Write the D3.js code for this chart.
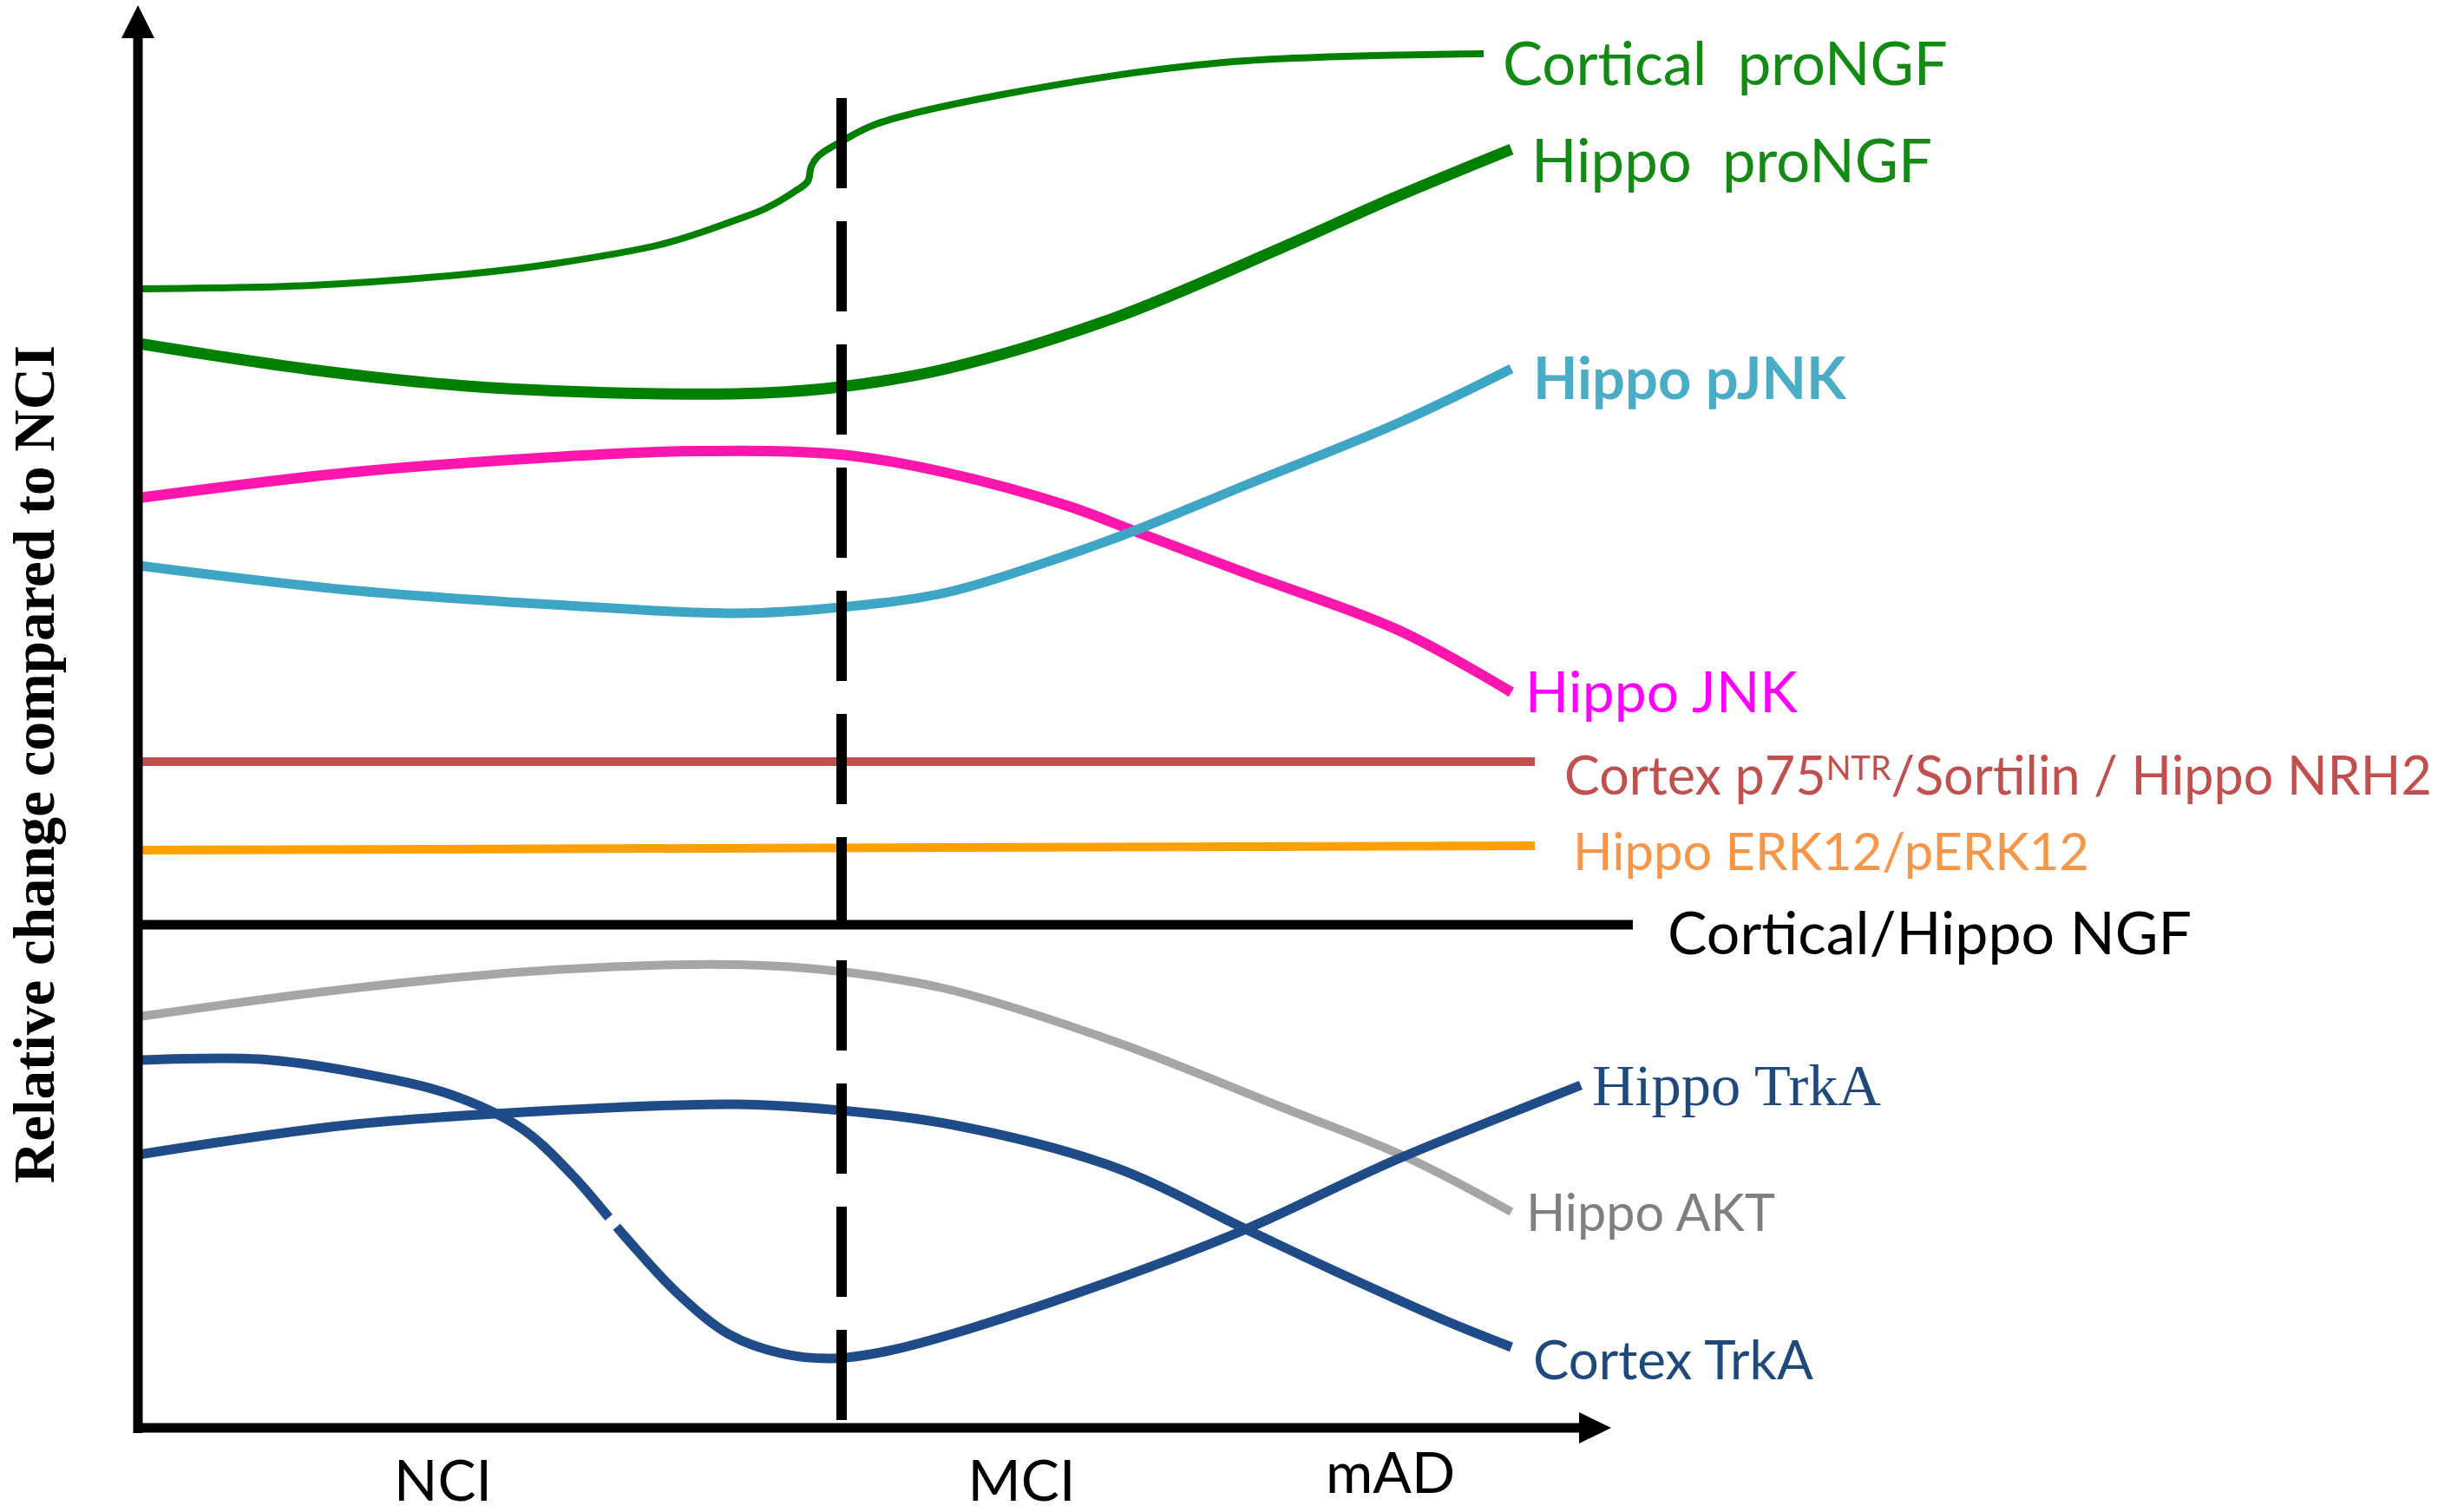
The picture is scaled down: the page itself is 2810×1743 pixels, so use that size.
<!DOCTYPE html>
<html>
<head>
<meta charset="utf-8">
<script src="https://cdn.jsdelivr.net/npm/d3@7"></script>
<style>
  body { margin: 0; background: #fff; }
  svg { display: block; }
</style>
</head>
<body>
<div id="chart"></div>
<script>
// stages on the time axis (x in arbitrary units, 0 = y axis)
const stages = ["NCI", "MCI", "mAD"];
const stageX = [35, 101.7, 144.2];
const mciBoundary = 81;

// relative change compared to NCI (0 = unchanged NGF line)
const corticalProNGF = [[0, 73.3], [19.8, 73.7], [37.8, 75.0], [47.8, 76.2], [60.5, 78.5], [69, 81.3],
  [72.3, 82.6], [75.7, 84.6], [77.1, 85.7], [77.5, 87.4], [78.3, 88.6], [81, 90.3], [85, 92.3],
  [99.5, 95.7], [125, 99.4], [155, 100.4]];
const hippoProNGF = [[0, 67], [19.8, 64], [37.8, 62.1], [60.5, 61.2], [72, 61.3], [80.9, 62],
  [93.1, 64.1], [112.3, 69.9], [131.4, 77.9], [144.2, 83.6], [158.2, 89.4]];
const hippoPJNK = [[0, 41.4], [24, 38.6], [47.8, 36.9], [69, 35.9], [80.9, 36.6], [93.1, 38.3],
  [107, 42.6], [114.7, 45.4], [127.4, 50.6], [145.3, 57.9], [158.2, 64.1]];
const hippoJNK = [[0, 49.2], [24, 52.1], [47.8, 53.9], [64, 54.6], [80.9, 54.2], [93.1, 52.1],
  [107, 48.3], [114.7, 45.4], [127.4, 40.6], [145.3, 33.9], [158.2, 26.8]];
const p75Sortilin = [[0, 18.8], [160.9, 18.8]];
const hippoERK = [[0, 8.6], [160.9, 9.1]];
const ngf = [[0, 0], [172.2, 0]];
const hippoAKT = [[0, -10.6], [24, -7.4], [47.8, -5.2], [69, -4.6], [80.9, -5.4], [93.1, -7.4],
  [112.3, -13.4], [131.4, -20.9], [146.1, -26.8], [158.2, -33.1]];
const cortexTrkA = [[0, -26.5], [24, -23.1], [48, -21.4], [69, -20.7], [80.9, -21.4], [94, -23.1],
  [112.3, -27.9], [127.6, -35.1], [137.8, -39.9], [150.5, -45.6], [158.2, -48.7]];
const hippoTrkA = [[0, -15.6], [14, -15.5], [26, -17.2], [36, -19.6], [44, -23.4], [50, -28.9],
  [56, -35.9], [62, -42.4], [68, -47.2], [74, -49.4], [80, -50], [86, -49.2], [94, -47.1],
  [112.3, -41], [127.6, -35.1], [144.2, -27.4], [156.9, -22.2], [166.2, -18.5]];

const W = 2810, H = 1743;
const SANS = "Lato, 'Open Sans', sans-serif";
const SERIF = "'Liberation Serif', 'DejaVu Serif', serif";

const svg = d3.select("#chart").append("svg")
    .attr("width", W)
    .attr("height", H);
svg.append("rect").attr("width", W).attr("height", H).attr("fill", "#fff");

const x = d3.scaleLinear().domain([0, 170]).range([160, 1860]);
const y = d3.scaleLinear().domain([-58, 106]).range([1646, 6]);

const line = d3.line()
    .x(d => x(d[0]))
    .y(d => y(d[1]))
    .curve(d3.curveCatmullRom.alpha(0.5));

// curves, back to front
const series = [
  { key: "p75", pts: p75Sortilin, color: "#c0504d", width: 10 },
  { key: "erk", pts: hippoERK, color: "#ffa000", width: 10 },
  { key: "ngf", pts: ngf, color: "#000", width: 11 },
  { key: "cortProNGF", pts: corticalProNGF, color: "#008000", width: 8 },
  { key: "hipProNGF", pts: hippoProNGF, color: "#008000", width: 13 },
  { key: "jnk", pts: hippoJNK, color: "#ff17ad", width: 12 },
  { key: "pjnk", pts: hippoPJNK, color: "#3ea5c4", width: 11 },
  { key: "akt", pts: hippoAKT, color: "#a6a6a6", width: 10 },
  { key: "cortTrkA", pts: cortexTrkA, color: "#1f4c88", width: 11 },
  { key: "hipTrkA", pts: hippoTrkA, color: "#1f4c88", width: 11 }
];

const curves = svg.append("g").attr("class", "curves");
curves.selectAll("path")
    .data(series)
    .join("path")
    .attr("d", d => line(d.pts))
    .attr("fill", "none")
    .attr("stroke", d => d.color)
    .attr("stroke-width", d => d.width)
    .attr("stroke-linecap", "butt");

// small break in the hippocampal TrkA curve
const trk = curves.selectAll("path").filter(d => d.key === "hipTrkA").node();
const total = trk.getTotalLength();
let cut = 0;
for (let l = 0; l < total; l += 0.5) {
  if (trk.getPointAtLength(l).x >= x(54.6)) { cut = l; break; }
}
d3.select(trk).attr("stroke-dasharray", `${cut - 7} 14 ${total}`);

// MCI boundary (dashed)
svg.append("line")
    .attr("x1", x(mciBoundary)).attr("x2", x(mciBoundary))
    .attr("y1", y(95.3)).attr("y2", y(-57.1))
    .attr("stroke", "#000")
    .attr("stroke-width", 12)
    .attr("stroke-dasharray", "104 38");

// axes with arrowheads
const axes = svg.append("g").attr("class", "axes");
axes.append("line")
    .attr("x1", x(0) - 1).attr("x2", x(0) - 1)
    .attr("y1", y(-58) + 6).attr("y2", y(102.6))
    .attr("stroke", "#000").attr("stroke-width", 11);
axes.append("path")
    .attr("d", `M${x(0) - 1},${y(106)} L${x(0) - 20},${y(102.2)} L${x(0) + 18},${y(102.2)} Z`)
    .attr("fill", "#000");
axes.append("line")
    .attr("x1", x(0) - 6).attr("x2", x(166.4))
    .attr("y1", y(-58)).attr("y2", y(-58))
    .attr("stroke", "#000").attr("stroke-width", 11);
axes.append("path")
    .attr("d", `M${x(169.7)},${y(-58)} L${x(166)},${y(-58) - 18} L${x(166)},${y(-58) + 18} Z`)
    .attr("fill", "#000");

// stage labels under the x axis
const xAxis = d3.axisBottom(x)
    .tickValues(stageX)
    .tickFormat((d, i) => stages[i])
    .tickSize(0);
const gx = svg.append("g")
    .attr("transform", `translate(0,${y(-58)})`)
    .call(xAxis);
gx.select(".domain").remove();
gx.selectAll("text")
    .attr("dy", null)
    .attr("y", 84)
    .attr("fill", "#000")
    .attr("font-family", SANS)
    .attr("font-size", 66);
gx.selectAll("text").filter((d, i) => i === 2).attr("y", 75);

// y axis title
svg.append("text")
    .attr("transform", `translate(62,${y(18.5)}) rotate(-90)`)
    .attr("text-anchor", "middle")
    .attr("font-family", SERIF)
    .attr("font-weight", "bold")
    .attr("font-size", 67)
    .attr("fill", "#000")
    .text("Relative change compared to NCI");

// series labels: anchor in data units, target width in px
const labels = [
  { text: "Cortical\u00a0\u00a0proNGF", at: [157.2, 96.8], w: 513, color: "#138a13", size: 70 },
  { text: "Hippo\u00a0\u00a0proNGF", at: [160.5, 85.6], w: 462, color: "#138a13", size: 70 },
  { text: "Hippo pJNK", at: [160.7, 60.6], w: 361, color: "#4bacc6", size: 70, bold: true },
  { text: "Hippo JNK", at: [159.8, 24.5], w: 314, color: "#ff00ff", size: 70 },
  { text: null, at: [164.3, 15], w: 1000, color: "#c0504d", size: 63 },
  { text: "Hippo ERK12/pERK12", at: [165.3, 6.3], w: 595, color: "#f79646", size: 63 },
  { text: "Cortical/Hippo NGF", at: [176.2, -3.4], w: 604, color: "#000", size: 70 },
  { text: "Hippo TrkA", at: [167.5, -20.8], w: 333, color: "#1f497d", size: 68, serif: true },
  { text: "Hippo AKT", at: [159.9, -35.3], w: 287, color: "#7f7f7f", size: 63 },
  { text: "Cortex TrkA", at: [160.7, -52.4], w: 323, color: "#1f497d", size: 63 }
];

const lab = svg.append("g").attr("class", "labels");
labels.forEach(l => {
  const t = lab.append("text")
      .attr("x", x(l.at[0]))
      .attr("y", y(l.at[1]))
      .attr("font-family", l.serif ? SERIF : SANS)
      .attr("font-weight", l.bold ? "bold" : "normal")
      .attr("font-size", l.size)
      .attr("fill", l.color);
  if (l.text) {
    t.text(l.text);
  } else {
    t.append("tspan").text("Cortex p75");
    t.append("tspan").attr("font-size", "0.62em").attr("dy", "-0.44em").text("NTR");
    t.append("tspan").attr("dy", "0.27em").text("/Sortilin / Hippo NRH2");
  }
  const w = t.node().getComputedTextLength();
  t.attr("font-size", l.size * l.w / w);
});
</script>
</body>
</html>
